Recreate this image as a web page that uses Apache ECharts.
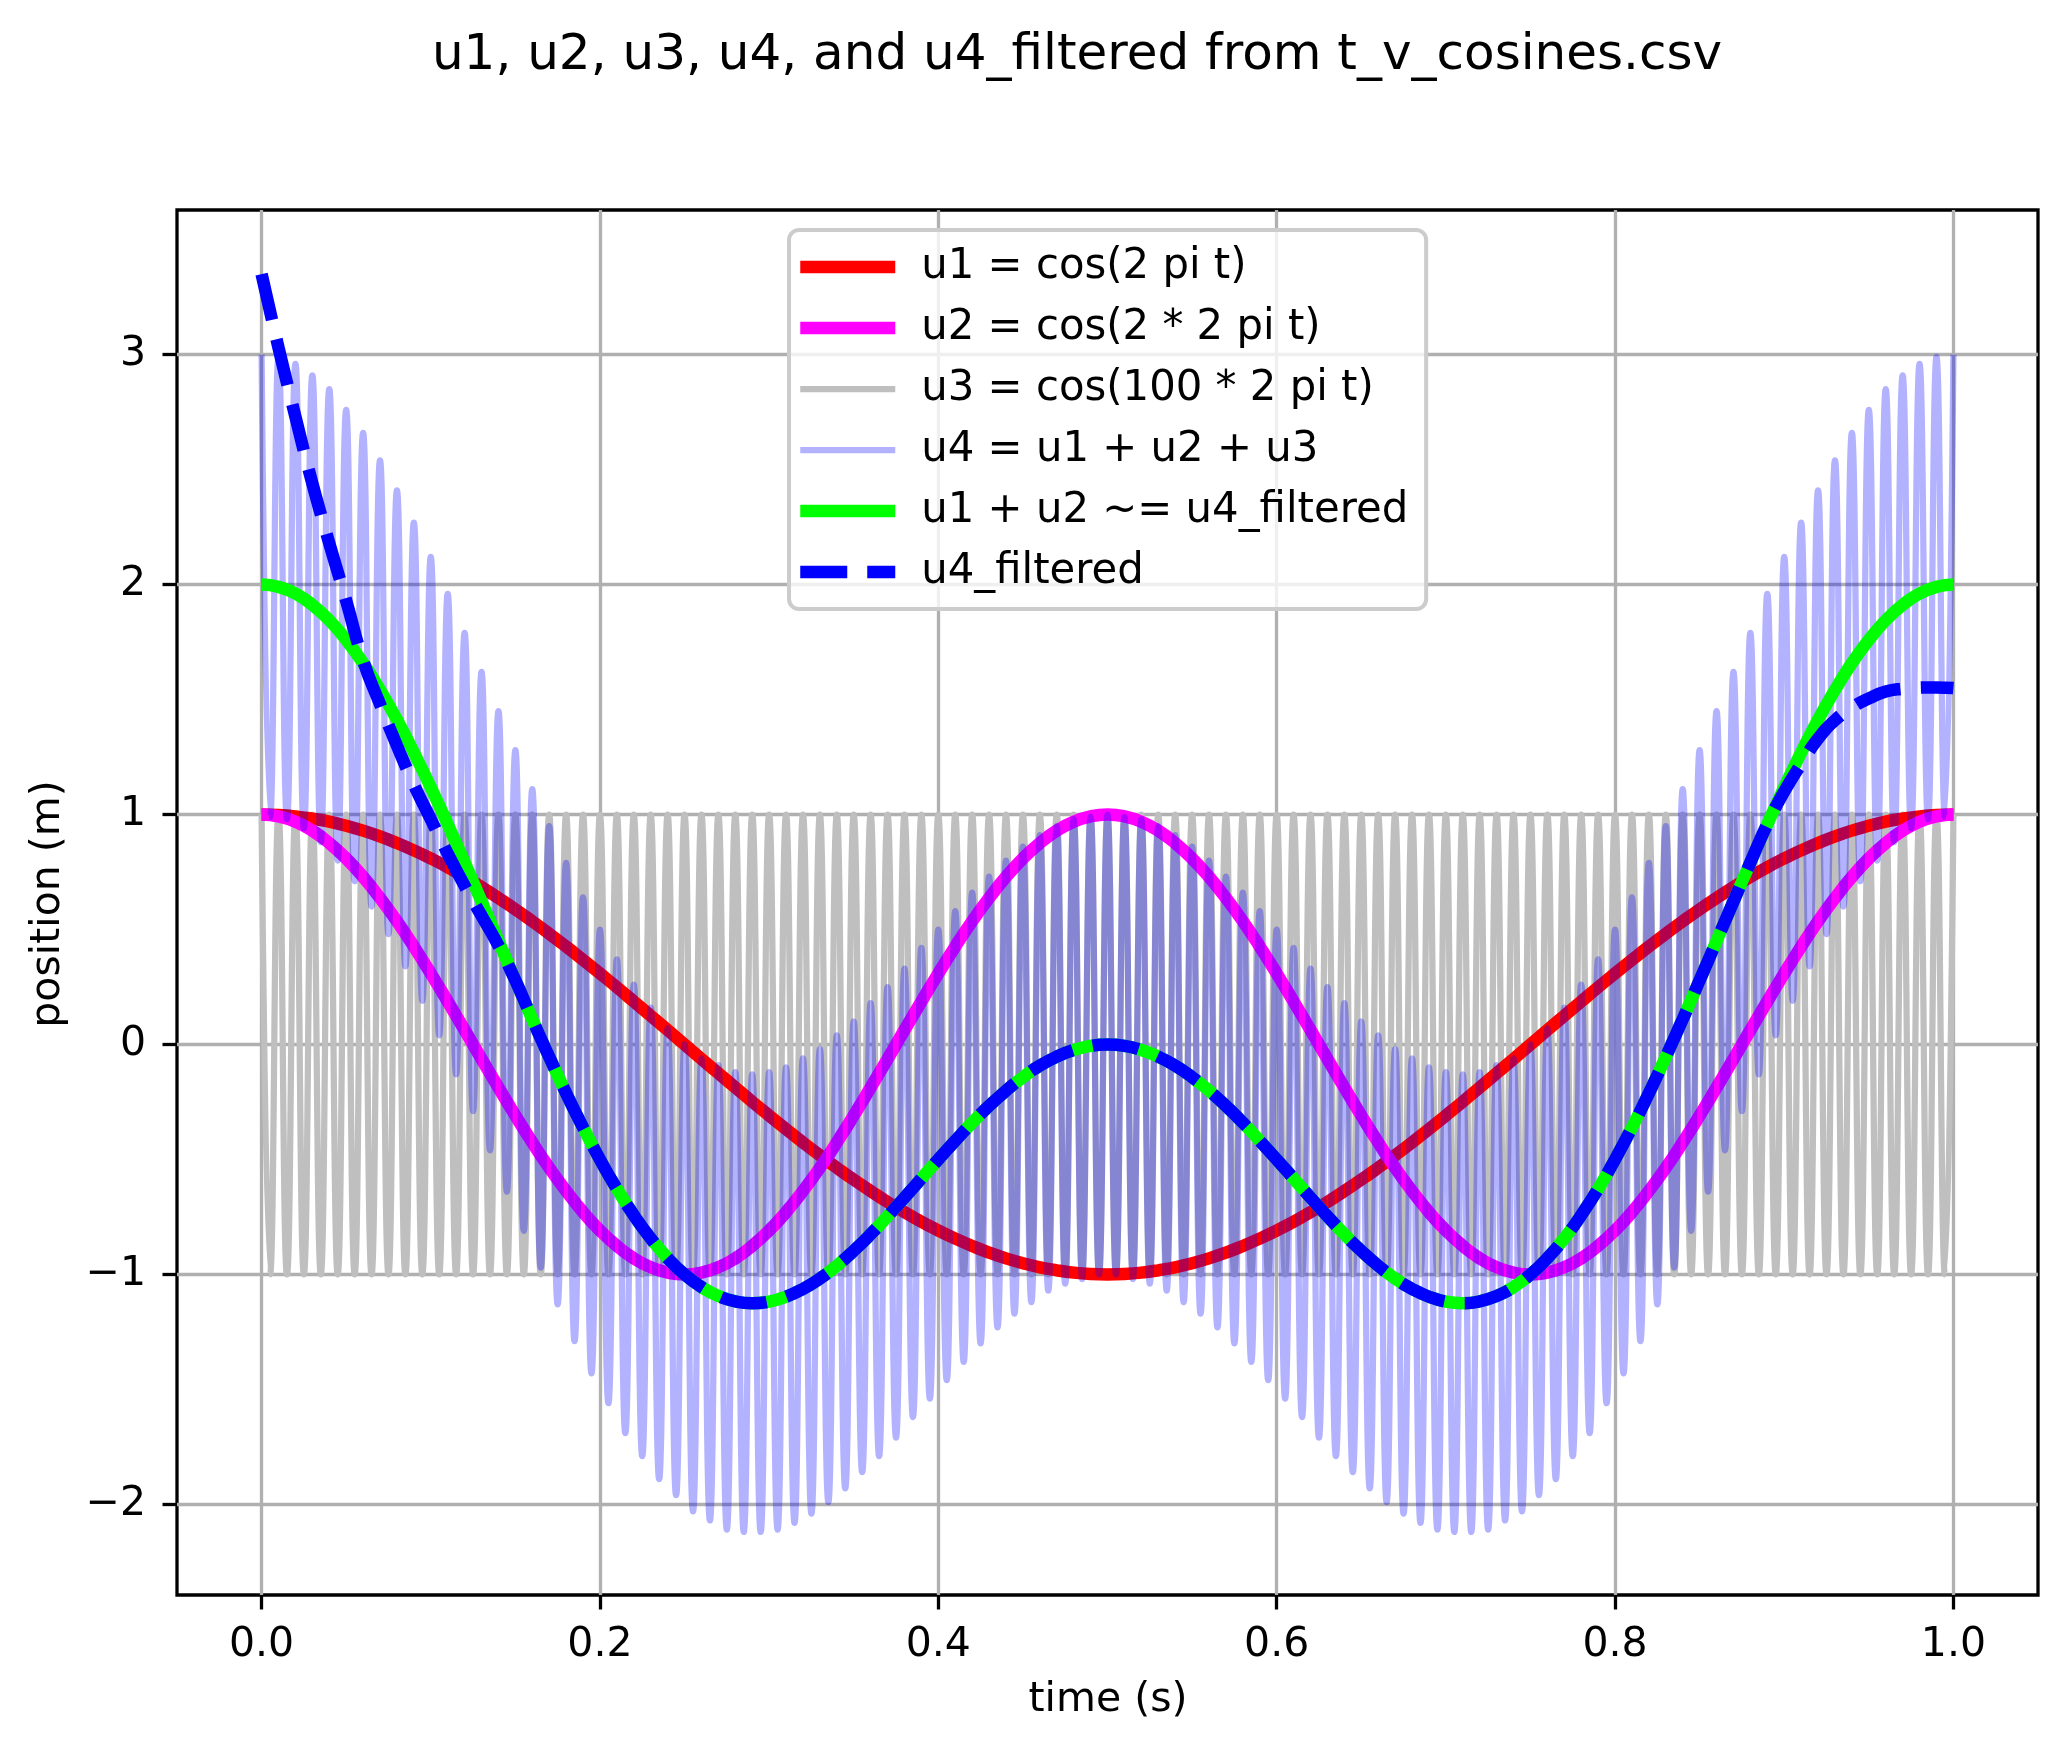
<!DOCTYPE html>
<html><head><meta charset="utf-8">
<script src="https://cdn.jsdelivr.net/npm/echarts@6/dist/echarts.min.js"></script>
<style>html,body{margin:0;padding:0;background:#fff}#c{width:2067px;height:1751px}</style>
</head><body><div id="c"></div>
<script>
const titleText = 'u1, u2, u3, u4, and u4_filtered from t_v_cosines.csv';
const xName = 'time (s)';
const yName = 'position (m)';
const xTicks = [0, 0.2, 0.4, 0.6, 0.8, 1.0];
const yTicks = [-2, -1, 0, 1, 2, 3];
const seriesNames = ['u1 = cos(2 pi t)', 'u2 = cos(2 * 2 pi t)', 'u3 = cos(100 * 2 pi t)', 'u4 = u1 + u2 + u3', 'u1 + u2 ~= u4_filtered', 'u4_filtered'];

const tCoarse = [
0,0.01,0.02,0.03,0.04,0.05,0.06,0.07,0.08,0.09,
0.10,0.11,0.12,0.13,0.14,0.15,0.16,0.17,0.18,0.19,
0.20,0.21,0.22,0.23,0.24,0.25,0.26,0.27,0.28,0.29,
0.30,0.31,0.32,0.33,0.34,0.35,0.36,0.37,0.38,0.39,
0.40,0.41,0.42,0.43,0.44,0.45,0.46,0.47,0.48,0.49,
0.50,0.51,0.52,0.53,0.54,0.55,0.56,0.57,0.58,0.59,
0.60,0.61,0.62,0.63,0.64,0.65,0.66,0.67,0.68,0.69,
0.70,0.71,0.72,0.73,0.74,0.75,0.76,0.77,0.78,0.79,
0.80,0.81,0.82,0.83,0.84,0.85,0.86,0.87,0.88,0.89,
0.90,0.91,0.92,0.93,0.94,0.95,0.96,0.97,0.98,0.99,
1.00];

const tFine = [
0,0.005,0.01,0.015,0.02,0.025,0.03,0.035,0.04,0.045,0.05,0.055,0.06,0.065,0.07,0.075,0.08,0.085,0.09,0.095,
0.1,0.105,0.11,0.115,0.12,0.125,0.13,0.135,0.14,0.145,0.15,0.155,0.16,0.165,0.17,0.175,0.18,0.185,0.19,0.195,
0.2,0.205,0.21,0.215,0.22,0.225,0.23,0.235,0.24,0.245,0.25,0.255,0.26,0.265,0.27,0.275,0.28,0.285,0.29,0.295,
0.3,0.305,0.31,0.315,0.32,0.325,0.33,0.335,0.34,0.345,0.35,0.355,0.36,0.365,0.37,0.375,0.38,0.385,0.39,0.395,
0.4,0.405,0.41,0.415,0.42,0.425,0.43,0.435,0.44,0.445,0.45,0.455,0.46,0.465,0.47,0.475,0.48,0.485,0.49,0.495,
0.5,0.505,0.51,0.515,0.52,0.525,0.53,0.535,0.54,0.545,0.55,0.555,0.56,0.565,0.57,0.575,0.58,0.585,0.59,0.595,
0.6,0.605,0.61,0.615,0.62,0.625,0.63,0.635,0.64,0.645,0.65,0.655,0.66,0.665,0.67,0.675,0.68,0.685,0.69,0.695,
0.7,0.705,0.71,0.715,0.72,0.725,0.73,0.735,0.74,0.745,0.75,0.755,0.76,0.765,0.77,0.775,0.78,0.785,0.79,0.795,
0.8,0.805,0.81,0.815,0.82,0.825,0.83,0.835,0.84,0.845,0.85,0.855,0.86,0.865,0.87,0.875,0.88,0.885,0.89,0.895,
0.9,0.905,0.91,0.915,0.92,0.925,0.93,0.935,0.94,0.945,0.95,0.955,0.96,0.965,0.97,0.975,0.98,0.985,0.99,0.995,
1];

const u1 = [
1.000,0.998,0.992,0.982,0.969,0.951,0.930,0.905,0.876,0.844,
0.809,0.771,0.729,0.685,0.637,0.588,0.536,0.482,0.426,0.368,
0.309,0.249,0.187,0.125,0.063,0.000,-0.063,-0.125,-0.187,-0.249,
-0.309,-0.368,-0.426,-0.482,-0.536,-0.588,-0.637,-0.685,-0.729,-0.771,
-0.809,-0.844,-0.876,-0.905,-0.930,-0.951,-0.969,-0.982,-0.992,-0.998,
-1.000,-0.998,-0.992,-0.982,-0.969,-0.951,-0.930,-0.905,-0.876,-0.844,
-0.809,-0.771,-0.729,-0.685,-0.637,-0.588,-0.536,-0.482,-0.426,-0.368,
-0.309,-0.249,-0.187,-0.125,-0.063,0.000,0.063,0.125,0.187,0.249,
0.309,0.368,0.426,0.482,0.536,0.588,0.637,0.685,0.729,0.771,
0.809,0.844,0.876,0.905,0.930,0.951,0.969,0.982,0.992,0.998,
1.000];

const u2 = [
1.000,0.992,0.969,0.930,0.876,0.809,0.729,0.637,0.536,0.426,
0.309,0.187,0.063,-0.063,-0.187,-0.309,-0.426,-0.536,-0.637,-0.729,
-0.809,-0.876,-0.930,-0.969,-0.992,-1.000,-0.992,-0.969,-0.930,-0.876,
-0.809,-0.729,-0.637,-0.536,-0.426,-0.309,-0.187,-0.063,0.063,0.187,
0.309,0.426,0.536,0.637,0.729,0.809,0.876,0.930,0.969,0.992,
1.000,0.992,0.969,0.930,0.876,0.809,0.729,0.637,0.536,0.426,
0.309,0.187,0.063,-0.063,-0.187,-0.309,-0.426,-0.536,-0.637,-0.729,
-0.809,-0.876,-0.930,-0.969,-0.992,-1.000,-0.992,-0.969,-0.930,-0.876,
-0.809,-0.729,-0.637,-0.536,-0.426,-0.309,-0.187,-0.063,0.063,0.187,
0.309,0.426,0.536,0.637,0.729,0.809,0.876,0.930,0.969,0.992,
1.000];

const u3 = [
1,-1,1,-1,1,-1,1,-1,1,-1,1,-1,1,-1,1,-1,1,-1,1,-1,
1,-1,1,-1,1,-1,1,-1,1,-1,1,-1,1,-1,1,-1,1,-1,1,-1,
1,-1,1,-1,1,-1,1,-1,1,-1,1,-1,1,-1,1,-1,1,-1,1,-1,
1,-1,1,-1,1,-1,1,-1,1,-1,1,-1,1,-1,1,-1,1,-1,1,-1,
1,-1,1,-1,1,-1,1,-1,1,-1,1,-1,1,-1,1,-1,1,-1,1,-1,
1,-1,1,-1,1,-1,1,-1,1,-1,1,-1,1,-1,1,-1,1,-1,1,-1,
1,-1,1,-1,1,-1,1,-1,1,-1,1,-1,1,-1,1,-1,1,-1,1,-1,
1,-1,1,-1,1,-1,1,-1,1,-1,1,-1,1,-1,1,-1,1,-1,1,-1,
1,-1,1,-1,1,-1,1,-1,1,-1,1,-1,1,-1,1,-1,1,-1,1,-1,
1,-1,1,-1,1,-1,1,-1,1,-1,1,-1,1,-1,1,-1,1,-1,1,-1,
1];

const u4 = [
3.00,0.99,2.99,0.98,2.96,0.94,2.91,0.88,2.85,0.80,2.76,0.71,2.66,0.60,2.54,0.48,2.41,0.34,2.27,0.19,
2.12,0.04,1.96,-0.13,1.79,-0.29,1.62,-0.46,1.45,-0.64,1.28,-0.81,1.11,-0.97,0.95,-1.13,0.79,-1.29,0.64,-1.43,
0.50,-1.56,0.37,-1.69,0.26,-1.79,0.16,-1.89,0.07,-1.96,0.00,-2.03,-0.06,-2.07,-0.09,-2.11,-0.12,-2.12,-0.13,-2.12,
-0.12,-2.11,-0.10,-2.08,-0.06,-2.04,-0.02,-1.99,0.04,-1.93,0.10,-1.86,0.18,-1.79,0.25,-1.71,0.33,-1.62,0.42,-1.54,
0.50,-1.46,0.58,-1.38,0.66,-1.30,0.73,-1.23,0.80,-1.17,0.86,-1.12,0.91,-1.07,0.95,-1.04,0.98,-1.02,0.99,-1.00,
1.00,
-1.00,0.99,-1.02,0.98,-1.04,0.95,-1.07,0.91,-1.12,0.86,-1.17,0.80,-1.23,0.73,-1.30,0.66,-1.38,0.58,-1.46,0.50,
-1.54,0.42,-1.62,0.33,-1.71,0.25,-1.79,0.18,-1.86,0.10,-1.93,0.04,-1.99,-0.02,-2.04,-0.06,-2.08,-0.10,-2.11,-0.12,
-2.12,-0.13,-2.12,-0.12,-2.11,-0.09,-2.07,-0.06,-2.03,0.00,-1.96,0.07,-1.89,0.16,-1.79,0.26,-1.69,0.37,-1.56,0.50,
-1.43,0.64,-1.29,0.79,-1.13,0.95,-0.97,1.11,-0.81,1.28,-0.64,1.45,-0.46,1.62,-0.29,1.79,-0.13,1.96,0.04,2.12,
0.19,2.27,0.34,2.41,0.48,2.54,0.60,2.66,0.71,2.76,0.80,2.85,0.88,2.91,0.94,2.96,0.98,2.99,0.99,3.00];

const u12 = [
2.000,1.990,1.961,1.912,1.845,1.760,1.659,1.542,1.412,1.270,
1.118,0.958,0.792,0.622,0.450,0.279,0.110,-0.054,-0.212,-0.361,
-0.500,-0.628,-0.742,-0.843,-0.929,-1.000,-1.055,-1.094,-1.117,-1.125,
-1.118,-1.097,-1.063,-1.018,-0.962,-0.897,-0.825,-0.747,-0.666,-0.583,
-0.500,-0.419,-0.340,-0.267,-0.201,-0.142,-0.092,-0.053,-0.024,-0.006,
0.000,-0.006,-0.024,-0.053,-0.092,-0.142,-0.201,-0.267,-0.340,-0.419,
-0.500,-0.583,-0.666,-0.747,-0.825,-0.897,-0.962,-1.018,-1.063,-1.097,
-1.118,-1.125,-1.117,-1.094,-1.055,-1.000,-0.929,-0.843,-0.742,-0.628,
-0.500,-0.361,-0.212,-0.054,0.110,0.279,0.450,0.622,0.792,0.958,
1.118,1.270,1.412,1.542,1.659,1.760,1.845,1.912,1.961,1.990,
2.000];

const u4filtered = [
3.35,3.03,2.73,2.44,2.18,1.93,1.67,1.48,1.30,1.13,
0.98,0.83,0.69,0.56,0.43,0.279,0.110,-0.054,-0.212,-0.361,
-0.500,-0.628,-0.742,-0.843,-0.929,-1.000,-1.055,-1.094,-1.117,-1.125,
-1.118,-1.097,-1.063,-1.018,-0.962,-0.897,-0.825,-0.747,-0.666,-0.583,
-0.500,-0.419,-0.340,-0.267,-0.201,-0.142,-0.092,-0.053,-0.024,-0.006,
0.000,-0.006,-0.024,-0.053,-0.092,-0.142,-0.201,-0.267,-0.340,-0.419,
-0.500,-0.583,-0.666,-0.747,-0.825,-0.897,-0.962,-1.018,-1.063,-1.097,
-1.118,-1.125,-1.117,-1.094,-1.055,-1.000,-0.929,-0.843,-0.742,-0.628,
-0.500,-0.361,-0.212,-0.054,0.110,0.279,0.450,0.622,0.792,0.958,
1.10,1.22,1.33,1.41,1.465,1.505,1.535,1.547,1.552,1.553,
1.55];

const F = 'DejaVu Sans';
const pairs = (ts, ys) => ts.map((t, i) => [t, ys[i]]);
const chart = echarts.init(document.getElementById('c'), null, {renderer: 'canvas', width: 2067, height: 1751});

function lineSeries(name, ts, ys, color, width, dash) {
  return {
    name: name, type: 'line', data: pairs(ts, ys), symbol: 'none', showSymbol: false,
    smooth: true, silent: true, color: color,
    itemStyle: {color: color},
    lineStyle: {color: color, width: width, type: dash || 'solid', cap: 'butt'},
    emphasis: {disabled: true}
  };
}

const thick = 12.5, thin = 6.25, dashPat = [47, 20];

const option = {
  animation: false,
  backgroundColor: '#ffffff',
  grid: {left: 177, right: 29, top: 210, bottom: 156, show: true, borderColor: '#000', borderWidth: 3.3, backgroundColor: 'transparent'},
  xAxis: {
    type: 'value', min: -0.05, max: 1.05,
    axisLine: {show: false, onZero: false},
    axisTick: {show: true, inside: false, customValues: xTicks, length: 14.5, lineStyle: {color: '#000', width: 3.3}},
    axisLabel: {customValues: xTicks, formatter: v => v.toFixed(1), fontSize: 41, fontFamily: F, color: '#000', margin: 30},
    splitLine: {show: true, lineStyle: {color: '#b0b0b0', width: 3.3}}
  },
  yAxis: {
    type: 'value', min: -2.394, max: 3.629,
    axisLine: {show: false, onZero: false},
    axisTick: {show: true, inside: false, customValues: yTicks, length: 14.5, lineStyle: {color: '#000', width: 3.3}},
    axisLabel: {customValues: yTicks, formatter: v => (v < 0 ? '\u2212' : '') + Math.abs(v), fontSize: 41, fontFamily: F, color: '#000', margin: 31},
    splitLine: {show: true, lineStyle: {color: '#b0b0b0', width: 3.3}}
  },
  legend: {
    orient: 'vertical', left: 789, top: 230, padding: [16, 18, 16, 5],
    itemGap: 19, itemWidth: 95, itemHeight: 41, selectedMode: false,
    itemStyle: {opacity: 0},
    backgroundColor: 'rgba(255,255,255,0.8)', borderColor: '#cccccc', borderWidth: 4, borderRadius: 10,
    textStyle: {fontSize: 41.8, fontFamily: F, color: '#000', lineHeight: 41, padding: [0, 0, 0, 21]},
    data: [
      {name: seriesNames[0], lineStyle: {width: thick}, itemStyle: {opacity: 0}},
      {name: seriesNames[1], lineStyle: {width: thick}, itemStyle: {opacity: 0}},
      {name: seriesNames[2], lineStyle: {width: thin}, itemStyle: {opacity: 0}},
      {name: seriesNames[3], lineStyle: {width: thin}, itemStyle: {opacity: 0}},
      {name: seriesNames[4], lineStyle: {width: thick}, itemStyle: {opacity: 0}},
      {name: seriesNames[5], lineStyle: {width: thick, type: dashPat}, itemStyle: {opacity: 0}}
    ]
  },
  graphic: [
    {type: 'text', x: 1077, y: 56, silent: true, style: {text: titleText, fontSize: 50, fontFamily: F, fill: '#000', align: 'center', verticalAlign: 'middle', textAlign: 'center', textVerticalAlign: 'middle'}},
    {type: 'text', x: 1108, y: 1700, silent: true, style: {text: xName, fontSize: 41, fontFamily: F, fill: '#000', align: 'center', verticalAlign: 'middle', textAlign: 'center', textVerticalAlign: 'middle'}},
    {type: 'text', x: 48, y: 904, rotation: Math.PI / 2, silent: true, style: {text: yName, fontSize: 41, fontFamily: F, fill: '#000', align: 'center', verticalAlign: 'middle', textAlign: 'center', textVerticalAlign: 'middle'}}
  ],
  series: [
    lineSeries(seriesNames[2], tFine, u3, '#bfbfbf', thin),
    lineSeries(seriesNames[0], tCoarse, u1, '#ff0000', thick),
    lineSeries(seriesNames[1], tCoarse, u2, '#ff00ff', thick),
    lineSeries(seriesNames[3], tFine, u4, 'rgba(0,0,255,0.3)', thin),
    lineSeries(seriesNames[4], tCoarse, u12, '#00ff00', thick),
    lineSeries(seriesNames[5], tCoarse, u4filtered, '#0000ff', thick, dashPat)
  ]
};
chart.setOption(option);
</script>
</body></html>
